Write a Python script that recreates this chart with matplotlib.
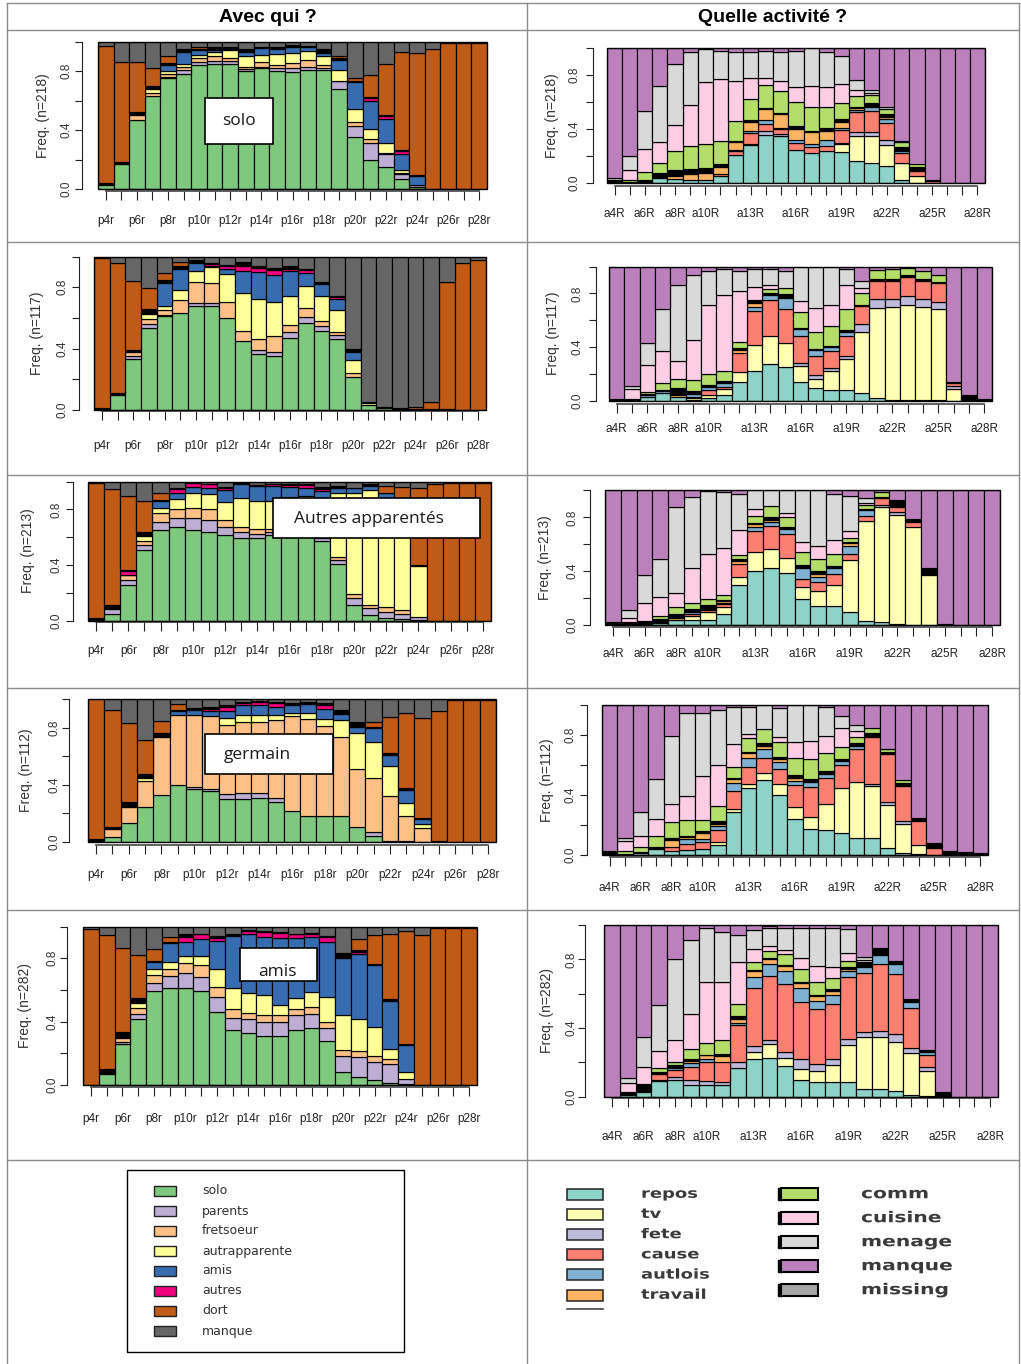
import numpy as np
import matplotlib
matplotlib.use("Agg")
import matplotlib.pyplot as plt
from matplotlib.patches import Rectangle, PathPatch
from matplotlib.textpath import TextPath
from matplotlib.transforms import Affine2D
from matplotlib import font_manager
from matplotlib.font_manager import FontProperties

# sequence state distributions, one row per time step (25 steps), columns in stacking order
avec_states = ['solo', 'parents', 'fretsoeur', 'autrapparente', 'amis', 'autres', 'dort', 'manque']
avec_colors = ['#7fc97f', '#beaed4', '#fdc086', '#ffff99', '#386cb0', '#f0027f', '#bf5b17', '#666666']
# stacking: solo, parents, fretsoeur, autrapparente, amis, autres, (non renseigne), dort, manque
avec_stack = ['#7fc97f', '#beaed4', '#fdc086', '#ffff99', '#386cb0', '#f0027f', '#000000', '#bf5b17', '#666666']

activ_states = ['repos', 'tv', 'fete', 'cause', 'autlois', 'travail',
                'comm', 'cuisine', 'menage', 'manque', 'missing']
activ_colors = ['#8dd3c7', '#ffffb3', '#bebada', '#fb8072', '#80b1d3', '#fdb462',
                '#b3de69', '#fccde5', '#d9d9d9', '#bc80bd', '#a6a6a6']
# stacking: repos, tv, fete, cause, autlois, travail, (trajet), comm, cuisine, menage, manque
activ_stack = ['#8dd3c7', '#ffffb3', '#bebada', '#fb8072', '#80b1d3', '#fdb462', '#000000',
               '#b3de69', '#fccde5', '#d9d9d9', '#bc80bd']

p_labels = ['p4r', '', 'p6r', '', 'p8r', '', 'p10r', '', 'p12r', '', 'p14r', '', 'p16r', '',
            'p18r', '', 'p20r', '', 'p22r', '', 'p24r', '', 'p26r', '', 'p28r']
a_labels = ['a4R', '', 'a6R', '', 'a8R', '', 'a10R', '', '', 'a13R', '', '', 'a16R', '', '',
            'a19R', '', '', 'a22R', '', '', 'a25R', '', '', 'a28R']

avec_218 = [
    [0.03, 0, 0, 0, 0, 0, 0.01, 0.93, 0.03],
    [0.17, 0, 0, 0, 0, 0, 0.015, 0.675, 0.14],
    [0.47, 0, 0.03, 0, 0, 0, 0.02, 0.34, 0.14],
    [0.63, 0, 0.02, 0.03, 0, 0, 0.02, 0.12, 0.18],
    [0.75, 0.01, 0.02, 0.02, 0.04, 0, 0.015, 0.045, 0.10],
    [0.78, 0.03, 0.02, 0.02, 0.08, 0, 0.01, 0.01, 0.05],
    [0.84, 0.02, 0.025, 0.025, 0.03, 0, 0.01, 0.01, 0.04],
    [0.85, 0.02, 0.03, 0.03, 0.01, 0, 0.02, 0, 0.04],
    [0.85, 0.02, 0.015, 0.06, 0, 0, 0.015, 0, 0.04],
    [0.80, 0.015, 0.015, 0.07, 0.03, 0, 0.01, 0.01, 0.05],
    [0.82, 0.01, 0.03, 0.05, 0.045, 0, 0.01, 0, 0.035],
    [0.80, 0.02, 0.02, 0.075, 0.035, 0, 0.01, 0, 0.04],
    [0.79, 0.03, 0.035, 0.07, 0.04, 0, 0.01, 0, 0.025],
    [0.81, 0.015, 0.05, 0.06, 0.025, 0, 0.01, 0, 0.03],
    [0.805, 0.015, 0.02, 0.06, 0.025, 0, 0.015, 0.01, 0.05],
    [0.675, 0.055, 0.005, 0.07, 0.07, 0, 0.015, 0.01, 0.10],
    [0.35, 0.08, 0.025, 0.085, 0.185, 0, 0.01, 0.015, 0.25],
    [0.20, 0.11, 0.03, 0.065, 0.19, 0.02, 0.01, 0.145, 0.23],
    [0.15, 0.085, 0.01, 0.07, 0.16, 0.02, 0.01, 0.345, 0.15],
    [0.07, 0.035, 0.005, 0.02, 0.105, 0.02, 0.01, 0.665, 0.07],
    [0.015, 0.01, 0.005, 0, 0.055, 0, 0.01, 0.825, 0.08],
    [0, 0, 0, 0, 0, 0, 0, 0.95, 0.05],
    [0, 0, 0, 0, 0, 0, 0, 0.99, 0.01],
    [0, 0, 0, 0, 0, 0, 0, 0.99, 0.01],
    [0, 0, 0, 0, 0, 0, 0, 0.99, 0.01],
]

avec_117 = [
    [0, 0, 0, 0, 0, 0, 0.01, 0.98, 0.01],
    [0.10, 0, 0, 0, 0, 0, 0.01, 0.85, 0.04],
    [0.335, 0.02, 0.02, 0, 0, 0, 0.015, 0.45, 0.16],
    [0.535, 0.025, 0.035, 0.03, 0, 0, 0.03, 0.14, 0.205],
    [0.615, 0.005, 0.03, 0.03, 0.15, 0, 0.02, 0.04, 0.11],
    [0.635, 0, 0.08, 0.07, 0.135, 0, 0.02, 0.025, 0.035],
    [0.68, 0.02, 0.135, 0.07, 0.05, 0, 0.02, 0, 0.025],
    [0.68, 0.02, 0.13, 0.10, 0.01, 0.01, 0.01, 0, 0.04],
    [0.60, 0, 0.105, 0.18, 0.035, 0.015, 0.01, 0, 0.055],
    [0.45, 0, 0.065, 0.25, 0.14, 0.03, 0.03, 0, 0.035],
    [0.365, 0.025, 0.075, 0.26, 0.175, 0.025, 0.015, 0, 0.06],
    [0.355, 0.02, 0.105, 0.225, 0.175, 0.035, 0.01, 0, 0.075],
    [0.47, 0.035, 0.05, 0.19, 0.16, 0.015, 0.015, 0, 0.065],
    [0.57, 0.035, 0.06, 0.14, 0.09, 0.015, 0.01, 0, 0.08],
    [0.515, 0.03, 0.035, 0.165, 0.075, 0, 0.015, 0, 0.165],
    [0.46, 0.03, 0.02, 0.14, 0.07, 0.015, 0.01, 0, 0.255],
    [0.215, 0, 0.025, 0.085, 0.05, 0, 0.02, 0, 0.605],
    [0.03, 0, 0, 0.015, 0, 0, 0.01, 0, 0.945],
    [0.015, 0, 0, 0, 0, 0, 0.005, 0, 0.98],
    [0, 0, 0, 0, 0, 0, 0.01, 0, 0.99],
    [0, 0, 0, 0, 0, 0, 0.005, 0.015, 0.98],
    [0, 0, 0, 0, 0, 0, 0.005, 0.05, 0.945],
    [0, 0, 0, 0, 0, 0, 0.005, 0.83, 0.165],
    [0, 0, 0, 0, 0, 0, 0, 0.96, 0.04],
    [0, 0, 0, 0, 0, 0, 0, 0.975, 0.025],
]

avec_213 = [
    [0, 0, 0, 0, 0, 0, 0.02, 0.97, 0.01],
    [0.05, 0.035, 0, 0, 0, 0, 0.025, 0.835, 0.055],
    [0.255, 0.035, 0.035, 0.005, 0, 0.025, 0.01, 0.53, 0.105],
    [0.505, 0.04, 0.03, 0.03, 0, 0, 0.035, 0.22, 0.14],
    [0.655, 0.055, 0.065, 0.035, 0.05, 0, 0.01, 0.045, 0.085],
    [0.67, 0.065, 0.07, 0.07, 0.045, 0.025, 0.01, 0, 0.045],
    [0.65, 0.09, 0.07, 0.11, 0.04, 0.03, 0, 0, 0.01],
    [0.635, 0.09, 0.075, 0.11, 0.04, 0.03, 0, 0, 0.02],
    [0.615, 0.055, 0.05, 0.135, 0.085, 0.01, 0.01, 0, 0.04],
    [0.595, 0.045, 0.035, 0.21, 0.095, 0, 0.01, 0, 0.01],
    [0.595, 0.03, 0.035, 0.20, 0.11, 0, 0.005, 0, 0.025],
    [0.615, 0.025, 0.02, 0.20, 0.11, 0.01, 0.005, 0, 0.015],
    [0.62, 0.02, 0.03, 0.22, 0.07, 0.015, 0.005, 0, 0.02],
    [0.62, 0.025, 0.03, 0.22, 0.06, 0.02, 0.005, 0, 0.02],
    [0.575, 0.02, 0.02, 0.225, 0.09, 0.015, 0.015, 0, 0.04],
    [0.405, 0.03, 0.02, 0.46, 0.035, 0, 0.015, 0, 0.035],
    [0.115, 0.045, 0.03, 0.73, 0.03, 0, 0.005, 0, 0.045],
    [0.04, 0.05, 0.025, 0.825, 0.03, 0, 0.01, 0, 0.02],
    [0.02, 0.04, 0.035, 0.78, 0.04, 0, 0.005, 0.045, 0.035],
    [0.015, 0.03, 0.03, 0.715, 0, 0, 0.01, 0.16, 0.04],
    [0.005, 0.025, 0, 0.36, 0, 0, 0.01, 0.55, 0.05],
    [0, 0, 0, 0, 0, 0, 0, 0.98, 0.02],
    [0, 0, 0, 0, 0, 0, 0, 0.99, 0.01],
    [0, 0, 0, 0, 0, 0, 0, 0.99, 0.01],
    [0, 0, 0, 0, 0, 0, 0, 0.99, 0.01],
]

avec_112 = [
    [0.005, 0, 0, 0, 0, 0, 0.015, 0.98, 0],
    [0.035, 0, 0.055, 0, 0, 0, 0.015, 0.82, 0.075],
    [0.13, 0, 0.115, 0, 0, 0, 0.035, 0.55, 0.17],
    [0.245, 0, 0.18, 0.025, 0, 0, 0.025, 0.235, 0.29],
    [0.33, 0, 0.405, 0, 0, 0, 0.03, 0.08, 0.155],
    [0.40, 0, 0.49, 0, 0.025, 0, 0.01, 0.04, 0.035],
    [0.37, 0.015, 0.50, 0, 0.035, 0, 0.015, 0, 0.065],
    [0.355, 0.015, 0.51, 0, 0.035, 0.015, 0.015, 0, 0.055],
    [0.30, 0.035, 0.48, 0.05, 0.05, 0.03, 0.01, 0, 0.045],
    [0.30, 0.04, 0.50, 0.05, 0.07, 0.015, 0.005, 0, 0.02],
    [0.31, 0.03, 0.50, 0.05, 0.07, 0.02, 0.005, 0, 0.015],
    [0.28, 0.03, 0.54, 0.04, 0.055, 0.025, 0.01, 0, 0.02],
    [0.215, 0, 0.665, 0.02, 0.06, 0, 0.015, 0, 0.025],
    [0.18, 0, 0.68, 0.045, 0.06, 0, 0.015, 0, 0.02],
    [0.18, 0, 0.63, 0.05, 0.07, 0.025, 0.015, 0, 0.03],
    [0.18, 0, 0.555, 0.12, 0.04, 0, 0.025, 0, 0.08],
    [0.105, 0, 0.405, 0.25, 0.045, 0, 0.035, 0, 0.16],
    [0.04, 0.03, 0.38, 0.25, 0.095, 0, 0.01, 0.035, 0.16],
    [0.005, 0, 0.315, 0.21, 0.075, 0, 0.02, 0.25, 0.125],
    [0.01, 0, 0.175, 0.09, 0.09, 0, 0.01, 0.525, 0.10],
    [0, 0, 0.10, 0.025, 0.035, 0, 0.01, 0.695, 0.135],
    [0, 0, 0, 0, 0, 0, 0.005, 0.91, 0.085],
    [0, 0, 0, 0, 0, 0, 0, 0.99, 0.01],
    [0, 0, 0, 0, 0, 0, 0, 0.99, 0.01],
    [0, 0, 0, 0, 0, 0, 0, 0.99, 0.01],
]

avec_282 = [
    [0, 0, 0, 0, 0, 0, 0, 0.985, 0.015],
    [0.07, 0, 0, 0, 0, 0, 0.03, 0.845, 0.055],
    [0.26, 0.01, 0.025, 0, 0, 0, 0.04, 0.53, 0.135],
    [0.415, 0.03, 0.04, 0.035, 0, 0, 0.03, 0.27, 0.18],
    [0.595, 0.05, 0.05, 0.035, 0.045, 0, 0.01, 0.075, 0.14],
    [0.615, 0.075, 0.04, 0.045, 0.12, 0, 0.01, 0.03, 0.065],
    [0.615, 0.09, 0.065, 0.045, 0.09, 0.03, 0.015, 0, 0.05],
    [0.595, 0.085, 0.075, 0.06, 0.105, 0.03, 0.005, 0, 0.045],
    [0.46, 0.095, 0.065, 0.115, 0.175, 0.02, 0.01, 0, 0.06],
    [0.345, 0.08, 0.055, 0.13, 0.33, 0, 0.01, 0, 0.05],
    [0.325, 0.09, 0.04, 0.125, 0.375, 0.015, 0.005, 0, 0.025],
    [0.31, 0.09, 0.04, 0.125, 0.37, 0.03, 0.005, 0, 0.03],
    [0.31, 0.09, 0.04, 0.065, 0.425, 0.03, 0.005, 0, 0.035],
    [0.35, 0.09, 0.04, 0.07, 0.38, 0.02, 0.005, 0, 0.045],
    [0.36, 0.09, 0.04, 0.095, 0.35, 0.02, 0.005, 0, 0.04],
    [0.28, 0.08, 0.04, 0.155, 0.35, 0.03, 0.005, 0, 0.06],
    [0.085, 0.095, 0.04, 0.22, 0.36, 0, 0.03, 0, 0.17],
    [0.05, 0.125, 0.04, 0.20, 0.41, 0.015, 0.01, 0.07, 0.08],
    [0.03, 0.115, 0.035, 0.185, 0.39, 0, 0.01, 0.18, 0.055],
    [0.015, 0.12, 0.03, 0.065, 0.30, 0, 0.015, 0.41, 0.045],
    [0.005, 0.03, 0, 0.045, 0.17, 0, 0.01, 0.71, 0.03],
    [0, 0, 0, 0, 0, 0, 0, 0.945, 0.055],
    [0, 0, 0, 0, 0, 0, 0, 0.99, 0.01],
    [0, 0, 0, 0, 0, 0, 0, 0.99, 0.01],
    [0, 0, 0, 0, 0, 0, 0, 0.99, 0.01],
]

activ_218 = [
    [0, 0, 0, 0, 0, 0, 0.025, 0, 0, 0.015, 0.96],
    [0, 0, 0, 0, 0, 0, 0.01, 0.01, 0.075, 0.105, 0.80],
    [0.005, 0, 0, 0, 0.01, 0, 0.01, 0.06, 0.165, 0.28, 0.47],
    [0.035, 0, 0, 0, 0, 0.01, 0.03, 0.075, 0.155, 0.41, 0.285],
    [0.03, 0, 0, 0, 0, 0.025, 0.045, 0.14, 0.19, 0.45, 0.12],
    [0.02, 0, 0, 0, 0, 0.05, 0.035, 0.17, 0.30, 0.395, 0.03],
    [0.02, 0, 0, 0, 0, 0.055, 0.035, 0.18, 0.46, 0.24, 0.01],
    [0.05, 0, 0, 0.015, 0, 0.055, 0.02, 0.17, 0.46, 0.21, 0.02],
    [0.21, 0, 0, 0.025, 0.012, 0.055, 0.01, 0.15, 0.295, 0.215, 0.028],
    [0.28, 0, 0.01, 0.08, 0.015, 0.07, 0.01, 0.155, 0.155, 0.195, 0.03],
    [0.355, 0, 0.03, 0.055, 0.025, 0.085, 0.005, 0.17, 0.05, 0.205, 0.02],
    [0.35, 0, 0.015, 0.035, 0.01, 0.10, 0.005, 0.165, 0.075, 0.215, 0.03],
    [0.245, 0, 0, 0.05, 0.025, 0.08, 0.02, 0.18, 0.11, 0.27, 0.02],
    [0.22, 0, 0, 0.045, 0.025, 0.085, 0.01, 0.175, 0.155, 0.285, 0],
    [0.235, 0, 0, 0.04, 0.04, 0.07, 0.02, 0.155, 0.15, 0.26, 0.03],
    [0.23, 0.06, 0.01, 0.09, 0.015, 0.045, 0.025, 0.12, 0.14, 0.205, 0.06],
    [0.16, 0.19, 0.025, 0.15, 0.015, 0.015, 0.01, 0.08, 0.045, 0.07, 0.24],
    [0.15, 0.20, 0.03, 0.15, 0.035, 0.005, 0.025, 0.06, 0.01, 0.025, 0.31],
    [0.125, 0.155, 0.035, 0.13, 0.03, 0.015, 0.02, 0.04, 0, 0.01, 0.44],
    [0.025, 0.12, 0.005, 0.07, 0.015, 0.01, 0.025, 0.035, 0, 0.005, 0.69],
    [0, 0.05, 0, 0.04, 0, 0, 0.03, 0.02, 0, 0, 0.86],
    [0, 0, 0, 0.015, 0, 0, 0.01, 0, 0, 0, 0.975],
    [0, 0, 0, 0, 0, 0, 0, 0, 0, 0, 1.0],
    [0, 0, 0, 0, 0, 0, 0, 0, 0, 0, 1.0],
    [0, 0, 0, 0, 0, 0, 0, 0, 0, 0, 1.0],
]

activ_117 = [
    [0, 0, 0, 0, 0, 0, 0.015, 0, 0, 0, 0.985],
    [0, 0, 0, 0, 0, 0, 0.01, 0, 0.075, 0.025, 0.89],
    [0.03, 0, 0, 0, 0.01, 0, 0.01, 0.015, 0.20, 0.165, 0.57],
    [0.055, 0, 0, 0, 0.015, 0, 0.01, 0.05, 0.24, 0.31, 0.32],
    [0.03, 0, 0, 0, 0, 0.01, 0.055, 0.065, 0.135, 0.57, 0.135],
    [0.005, 0.015, 0, 0.005, 0.025, 0.005, 0.02, 0.08, 0.30, 0.48, 0.065],
    [0.02, 0.02, 0, 0.04, 0.025, 0, 0.01, 0.085, 0.515, 0.25, 0.035],
    [0.045, 0.04, 0, 0.02, 0.03, 0, 0.01, 0.075, 0.565, 0.20, 0.015],
    [0.14, 0.075, 0, 0.14, 0, 0.025, 0.01, 0.05, 0.38, 0.15, 0.03],
    [0.225, 0.19, 0, 0.255, 0.025, 0.035, 0.01, 0.01, 0.10, 0.13, 0.02],
    [0.275, 0.21, 0, 0.265, 0.04, 0, 0.01, 0.035, 0.025, 0.125, 0.015],
    [0.25, 0.18, 0, 0.255, 0.08, 0, 0.03, 0.045, 0, 0.13, 0.03],
    [0.14, 0.12, 0.02, 0.205, 0.05, 0, 0.005, 0.12, 0.08, 0.26, 0],
    [0.095, 0.065, 0.03, 0.145, 0.04, 0, 0.01, 0.125, 0.18, 0.31, 0],
    [0.08, 0.145, 0.02, 0.125, 0.03, 0, 0.01, 0.145, 0.16, 0.285, 0],
    [0.08, 0.23, 0.02, 0.155, 0.025, 0, 0.015, 0.155, 0.18, 0.125, 0.015],
    [0.055, 0.46, 0.06, 0.13, 0, 0, 0.01, 0.09, 0.035, 0.05, 0.11],
    [0.02, 0.67, 0.065, 0.14, 0, 0, 0.01, 0.07, 0, 0, 0.025],
    [0.005, 0.69, 0.06, 0.14, 0, 0, 0.015, 0.07, 0, 0, 0.02],
    [0.005, 0.705, 0.07, 0.145, 0, 0, 0.01, 0.055, 0, 0, 0.01],
    [0.005, 0.695, 0.06, 0.135, 0, 0, 0.01, 0.06, 0, 0, 0.035],
    [0.005, 0.675, 0.055, 0.14, 0, 0, 0.01, 0.055, 0, 0, 0.06],
    [0, 0.09, 0.02, 0.02, 0, 0, 0.01, 0, 0, 0, 0.86],
    [0, 0, 0, 0, 0, 0, 0.045, 0, 0, 0, 0.955],
    [0, 0, 0, 0, 0, 0, 0.015, 0, 0, 0, 0.985],
]

activ_213 = [
    [0, 0, 0, 0, 0, 0, 0.025, 0, 0, 0, 0.975],
    [0, 0, 0, 0, 0, 0, 0.02, 0, 0.035, 0.055, 0.89],
    [0, 0, 0, 0, 0, 0, 0.03, 0, 0.13, 0.21, 0.63],
    [0.015, 0, 0, 0, 0, 0, 0.03, 0.025, 0.135, 0.285, 0.51],
    [0.035, 0, 0, 0, 0, 0.015, 0.035, 0.05, 0.105, 0.64, 0.12],
    [0.035, 0.03, 0, 0.015, 0.015, 0.01, 0.015, 0.04, 0.265, 0.525, 0.05],
    [0.035, 0.06, 0, 0.015, 0.01, 0.01, 0.015, 0.045, 0.34, 0.465, 0.005],
    [0.085, 0.05, 0, 0.02, 0.01, 0.01, 0.01, 0.04, 0.345, 0.42, 0.01],
    [0.295, 0.06, 0, 0.10, 0, 0.02, 0.015, 0.03, 0.185, 0.27, 0.025],
    [0.40, 0.14, 0, 0.16, 0.025, 0.025, 0.005, 0.055, 0.055, 0.135, 0],
    [0.425, 0.14, 0, 0.17, 0.03, 0.015, 0.025, 0.08, 0, 0.115, 0],
    [0.385, 0.115, 0, 0.175, 0.04, 0, 0.01, 0.075, 0.03, 0.17, 0],
    [0.195, 0.09, 0, 0.06, 0.075, 0, 0.025, 0.095, 0.075, 0.385, 0],
    [0.14, 0.115, 0, 0.065, 0.04, 0.02, 0.02, 0.09, 0.095, 0.415, 0],
    [0.14, 0.16, 0, 0.08, 0.04, 0, 0.02, 0.085, 0.105, 0.345, 0.025],
    [0.10, 0.385, 0, 0.04, 0.06, 0.025, 0.01, 0.025, 0.055, 0.26, 0.04],
    [0.03, 0.745, 0, 0.035, 0.045, 0, 0.01, 0.03, 0.01, 0.04, 0.055],
    [0.025, 0.85, 0.015, 0.05, 0, 0, 0.01, 0.035, 0, 0, 0.015],
    [0.005, 0.81, 0.025, 0.035, 0.01, 0, 0.04, 0, 0, 0, 0.075],
    [0, 0.725, 0, 0.04, 0, 0, 0.02, 0, 0, 0, 0.215],
    [0, 0.37, 0, 0, 0, 0, 0.05, 0, 0, 0, 0.58],
    [0, 0, 0, 0, 0, 0, 0.01, 0, 0, 0, 0.99],
    [0, 0, 0, 0, 0, 0, 0, 0, 0, 0, 1.0],
    [0, 0, 0, 0, 0, 0, 0, 0, 0, 0, 1.0],
    [0, 0, 0, 0, 0, 0, 0, 0, 0, 0, 1.0],
]

activ_112 = [
    [0, 0, 0.01, 0, 0, 0, 0.02, 0, 0, 0, 0.97],
    [0, 0, 0, 0, 0, 0, 0.005, 0.02, 0.07, 0.02, 0.885],
    [0.015, 0, 0, 0, 0, 0, 0.005, 0.035, 0.075, 0.155, 0.715],
    [0.04, 0, 0, 0, 0, 0, 0.015, 0.07, 0.115, 0.265, 0.495],
    [0.025, 0, 0, 0.03, 0, 0.045, 0.015, 0.105, 0.12, 0.455, 0.205],
    [0.035, 0, 0, 0.04, 0.03, 0.015, 0.01, 0.105, 0.16, 0.555, 0.05],
    [0.04, 0, 0, 0.05, 0.02, 0.035, 0.015, 0.075, 0.29, 0.42, 0.055],
    [0.07, 0.02, 0, 0.075, 0.03, 0.015, 0.015, 0.10, 0.275, 0.37, 0.03],
    [0.29, 0.02, 0, 0.12, 0.05, 0.03, 0.005, 0.07, 0.155, 0.25, 0.01],
    [0.445, 0.03, 0, 0.115, 0.055, 0.035, 0.005, 0.095, 0.03, 0.18, 0.01],
    [0.50, 0.045, 0, 0.105, 0.055, 0.025, 0.015, 0.095, 0, 0.16, 0],
    [0.40, 0.075, 0, 0.10, 0.045, 0.02, 0.015, 0.10, 0.03, 0.195, 0.02],
    [0.24, 0.08, 0, 0.145, 0.03, 0.02, 0.02, 0.115, 0.105, 0.245, 0],
    [0.175, 0.08, 0, 0.20, 0.03, 0.01, 0.015, 0.13, 0.12, 0.24, 0],
    [0.165, 0.175, 0, 0.175, 0.025, 0.01, 0.01, 0.12, 0.115, 0.195, 0.01],
    [0.15, 0.30, 0, 0.15, 0.025, 0, 0.015, 0.08, 0.13, 0.075, 0.075],
    [0.115, 0.37, 0, 0.225, 0.02, 0, 0.015, 0.045, 0.035, 0.04, 0.135],
    [0.115, 0.345, 0.015, 0.315, 0, 0, 0.025, 0.035, 0, 0, 0.15],
    [0.045, 0.29, 0.02, 0.32, 0, 0, 0.015, 0.02, 0, 0, 0.29],
    [0.015, 0.19, 0.02, 0.235, 0, 0, 0.02, 0.02, 0, 0, 0.50],
    [0.005, 0.06, 0, 0.16, 0, 0, 0.025, 0, 0, 0, 0.75],
    [0, 0, 0, 0.05, 0, 0, 0.03, 0, 0, 0, 0.92],
    [0, 0, 0, 0.01, 0, 0, 0.015, 0, 0, 0, 0.975],
    [0, 0, 0, 0.01, 0, 0, 0.01, 0, 0, 0, 0.98],
    [0, 0, 0, 0, 0, 0, 0.015, 0, 0, 0, 0.985],
]

activ_282 = [
    [0, 0, 0, 0, 0, 0, 0, 0, 0, 0, 1.0],
    [0.01, 0, 0, 0, 0, 0, 0.02, 0, 0.05, 0.03, 0.89],
    [0.025, 0, 0, 0, 0, 0, 0.05, 0, 0.10, 0.175, 0.65],
    [0.09, 0, 0.01, 0.03, 0, 0, 0.015, 0.02, 0.10, 0.27, 0.465],
    [0.095, 0, 0.02, 0.04, 0.015, 0, 0.015, 0.02, 0.125, 0.47, 0.20],
    [0.07, 0, 0.025, 0.08, 0.02, 0.015, 0.01, 0.055, 0.205, 0.435, 0.085],
    [0.07, 0, 0.02, 0.115, 0.015, 0.02, 0.005, 0.07, 0.355, 0.31, 0.02],
    [0.07, 0, 0.015, 0.115, 0, 0.035, 0.015, 0.08, 0.34, 0.29, 0.04],
    [0.17, 0, 0.03, 0.215, 0.015, 0.025, 0.015, 0.07, 0.245, 0.155, 0.06],
    [0.22, 0.04, 0.035, 0.34, 0.065, 0.03, 0.01, 0.045, 0.075, 0.11, 0.03],
    [0.225, 0.08, 0.025, 0.375, 0.065, 0.03, 0.005, 0.045, 0.025, 0.11, 0.01],
    [0.18, 0.045, 0.035, 0.395, 0.075, 0.03, 0.005, 0.065, 0.025, 0.13, 0.015],
    [0.095, 0.065, 0.06, 0.33, 0.085, 0.025, 0.01, 0.075, 0.065, 0.175, 0.015],
    [0.085, 0.065, 0.04, 0.32, 0.05, 0.025, 0.01, 0.075, 0.09, 0.225, 0.015],
    [0.085, 0.10, 0.035, 0.32, 0.055, 0.02, 0.015, 0.06, 0.065, 0.23, 0.015],
    [0.085, 0.215, 0.035, 0.36, 0.035, 0.015, 0.01, 0.035, 0.045, 0.14, 0.025],
    [0.045, 0.30, 0.03, 0.345, 0.035, 0, 0.025, 0.005, 0.01, 0.02, 0.185],
    [0.045, 0.305, 0.035, 0.39, 0.05, 0, 0.04, 0, 0, 0, 0.135],
    [0.035, 0.285, 0.045, 0.35, 0.055, 0, 0.02, 0, 0, 0, 0.21],
    [0.01, 0.245, 0.03, 0.23, 0.035, 0, 0.02, 0, 0, 0, 0.43],
    [0.005, 0.145, 0.025, 0.065, 0.02, 0, 0.01, 0, 0, 0, 0.73],
    [0, 0, 0, 0, 0, 0, 0.025, 0, 0, 0, 0.975],
    [0, 0, 0, 0, 0, 0, 0, 0, 0, 0, 1.0],
    [0, 0, 0, 0, 0, 0, 0, 0, 0, 0, 1.0],
    [0, 0, 0, 0, 0, 0, 0, 0, 0, 0, 1.0],
]

W, H = 1021, 1364
PT = 0.72  # points per pixel at 100 dpi

installed = {f.name for f in font_manager.fontManager.ttflist}
axis_font = 'Liberation Sans Narrow' if 'Liberation Sans Narrow' in installed else 'Liberation Sans'
plt.rcParams['font.family'] = axis_font

fig = plt.figure(figsize=(W / 100, H / 100), dpi=100)


def seqplot(geom, rows, stack_colors, ticklabels, ylabel):
    # geom: frame x0, y0, x1, y1, y-axis x, y tick label x, x-axis y, x tick label y, ylabel x (pixels)
    x0, y0, x1, y1, yax, ylx, xax, xly, ylab = geom
    ax = fig.add_axes([x0 / W, 1 - y1 / H, (x1 - x0) / W, (y1 - y0) / H])
    vals = np.array(rows, dtype=float)
    pos = np.arange(len(vals))
    base = np.zeros(len(vals))
    for j, col in enumerate(stack_colors):
        h = vals[:, j]
        m = h > 0
        ax.bar(pos[m], h[m], bottom=base[m], width=1.0, color=col,
               edgecolor='black', linewidth=0.85)
        base += h
    ax.set_xlim(-0.5, len(vals) - 0.5)
    ax.set_ylim(0, 1)
    ax.spines['top'].set_visible(False)
    ax.spines['right'].set_visible(False)
    ax.add_patch(Rectangle((0, 0), 1, 1, transform=ax.transAxes, fill=False,
                           ec='black', lw=1.0, clip_on=False, zorder=5))
    ax.spines['left'].set_position(('outward', (x0 - yax) * PT))
    ax.spines['left'].set_bounds(0, 1)
    ax.spines['bottom'].set_position(('outward', (xax - y1) * PT))
    ax.spines['bottom'].set_bounds(0, len(vals) - 1)
    ax.spines['bottom'].set_color('#555555')
    ax.spines['bottom'].set_linewidth(1.3)
    ax.spines['left'].set_color('#222222')
    ax.set_yticks([0, 0.2, 0.4, 0.6, 0.8, 1.0])
    ax.set_yticklabels(['0.0', '', '0.4', '', '0.8', ''])
    ax.set_xticks(pos)
    ax.set_xticklabels(ticklabels)
    ax.tick_params(axis='y', length=7 * PT, width=0.8, color='#222222', labelrotation=90,
                   pad=max(yax - ylx - 7 - 5, 1) * PT, labelsize=8.5, labelcolor='#333333')
    ax.tick_params(axis='x', length=9 * PT, width=0.8, color='#222222',
                   pad=max(xly - xax - 9 - 5, 1) * PT, labelsize=8.5, labelcolor='#222222')
    for t in ax.get_yticklabels():
        t.set_va('center')
    fig.text(ylab / W, 1 - (y0 + y1) / 2 / H, ylabel, rotation=90,
             ha='center', va='center', fontsize=10, color='#333333')
    return ax


left_geoms = [
    (98, 41.5, 487, 189, 82, 67, 190.5, 220, 43),
    (94, 256.5, 486, 410, 79, 63, 411, 445, 37),
    (88, 481.5, 491, 620.7, 73, 57, 622, 650, 28),
    (88, 699, 496, 842, 69, 55, 845, 874, 26),
    (83, 926.5, 477, 1085, 67, 53, 1087, 1118, 25),
]
right_geoms = [
    (607, 48, 985, 183, 593, 575, 186, 213, 552),
    (609, 266.5, 992, 400.7, 596, 578, 404, 428, 553),
    (605, 490.4, 1000, 625, 590, 573, 627, 653, 545),
    (602, 705, 988, 855, 587, 572, 857, 887, 547),
    (604, 925, 998, 1096.7, 585, 572, 1098, 1136, 547),
]
avec_panels = [avec_218, avec_117, avec_213, avec_112, avec_282]
activ_panels = [activ_218, activ_117, activ_213, activ_112, activ_282]
group_n = [218, 117, 213, 112, 282]

for g, rows, n in zip(left_geoms, avec_panels, group_n):
    seqplot(g, rows, avec_stack, p_labels, 'Freq. (n=%d)' % n)
for g, rows, n in zip(right_geoms, activ_panels, group_n):
    seqplot(g, rows, activ_stack, a_labels, 'Freq. (n=%d)' % n)

# overlay in pixel coordinates: table rules, headers, group tags, legends
ov = fig.add_axes([0, 0, 1, 1], zorder=10)
ov.set_xlim(0, W)
ov.set_ylim(H, 0)
ov.axis('off')
ov.patch.set_visible(False)

rule = dict(color='#8c8c8c', lw=1.0)
ov.plot([7, 7], [3, H], **rule)
ov.plot([1019, 1019], [3, H], **rule)
ov.plot([527, 527], [3, H], **rule)
for yy in [3, 30, 242, 475, 688, 910, 1160]:
    ov.plot([7, 1019], [yy, yy], **rule)

ov.text(268, 17, 'Avec qui ?', ha='center', va='center', fontsize=14,
        fontweight='bold', family='Liberation Sans')
ov.text(773, 17, 'Quelle activité ?', ha='center', va='center', fontsize=14,
        fontweight='bold', family='Liberation Sans')

tag_font = 'Open Sans'
tags = [
    ('solo', (205, 98, 273, 144), (239, 121)),
    ('Autres apparentés', (273, 498, 480, 538), (369, 519)),
    ('germain', (205, 734, 333, 774), (257, 755)),
    ('amis', (240, 948, 317, 981), (277, 972)),
]
for txt, (bx0, by0, bx1, by1), (tx, ty) in tags:
    r = Rectangle((bx0, by0), bx1 - bx0, by1 - by0, fc='white', ec='black', lw=1.2)
    ov.add_patch(r)
    t = ov.text(tx, ty, txt, ha='center', va='center', fontsize=12.5,
                family=tag_font, color='#1a1a1a')
    t.set_clip_path(r)

# legend for the companion states
ov.add_patch(Rectangle((127, 1170), 277, 182, fill=False, ec='black', lw=1.0))
for k, (name, col) in enumerate(zip(avec_states, avec_colors)):
    yc = 1191 + k * 20.0
    ov.add_patch(Rectangle((154, yc - 5), 22, 10, fc=col, ec='#222222', lw=1.0))
    ov.text(202, yc, name, ha='left', va='center', fontsize=9,
            family='DejaVu Sans', color='#333333')

# legend for the activity states, drawn with horizontally stretched lettering
wide_fp = FontProperties(family='DejaVu Sans', weight='bold')


def wide_label(x, yc, s, em, sx):
    tp = TextPath((0, 0), s, size=em, prop=wide_fp)
    tr = Affine2D().scale(sx, -1.0).translate(x, yc + 0.28 * em)
    ov.add_patch(PathPatch(tr.transform_path(tp), fc='#3a3a3a', ec='none'))


left_col = list(zip(activ_states[:6], activ_colors[:6]))
right_col = list(zip(activ_states[6:], activ_colors[6:]))
for k, (name, col) in enumerate(left_col):
    yc = 1194 + k * 20.2
    ov.add_patch(Rectangle((567, yc - 5.5), 36, 11, fc=col, ec='#222222', lw=1.1))
    wide_label(641, yc, name, 13.5, 1.33)
ov.plot([567, 603], [1309, 1309], color='#444444', lw=1.2)
for k, (name, col) in enumerate(right_col):
    yc = 1194 + k * 24.0
    ov.add_patch(Rectangle((778, yc - 6), 4, 12, fc='black', ec='black', lw=1.0))
    ov.add_patch(Rectangle((781, yc - 6), 37, 12, fc=col, ec='black', lw=1.5))
    wide_label(861, yc, name, 15, 1.35)

fig.savefig('out.png', dpi=100)
